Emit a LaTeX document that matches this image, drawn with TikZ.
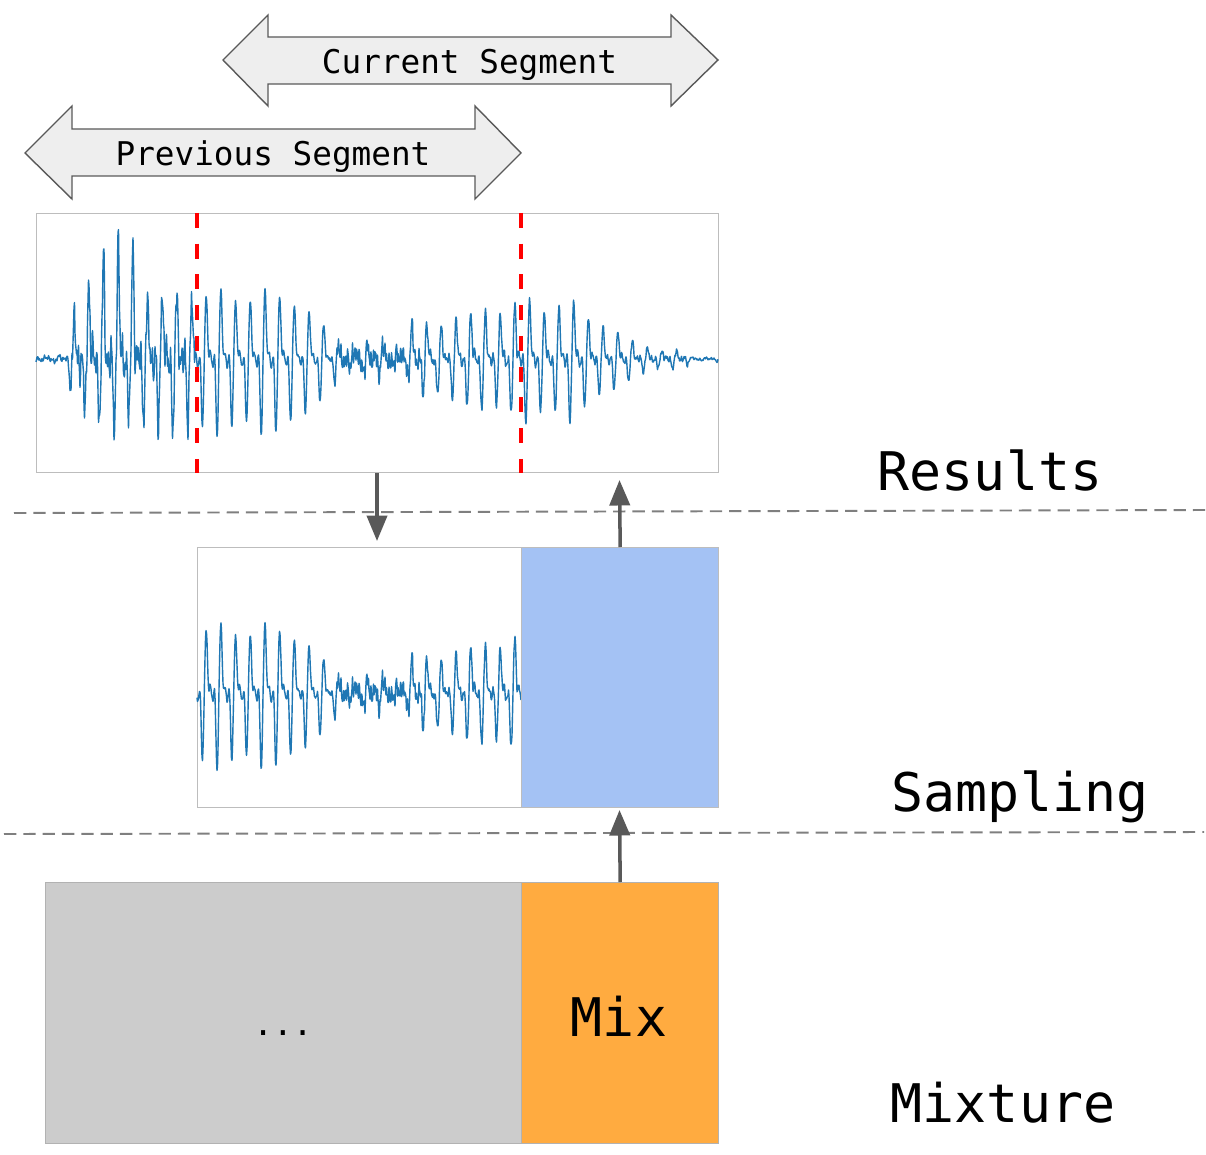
\documentclass[tikz,border=0pt]{standalone}
\usepackage{fontspec}
\newfontfamily\monofam{DejaVu Sans Mono}
\usetikzlibrary{arrows.meta,calc}
\definecolor{wblue}{HTML}{1F77B4}
\definecolor{sampblue}{HTML}{A4C2F4}
\definecolor{mixorange}{HTML}{FFAB40}
\definecolor{mixgray}{HTML}{CCCCCC}
\definecolor{arrowfill}{HTML}{EEEEEE}
\definecolor{arrowline}{HTML}{595959}
\definecolor{boxline}{HTML}{BDBDBD}
\definecolor{sepline}{HTML}{7F7F7F}
\begin{document}
\begin{tikzpicture}[x=0.02cm,y=-0.02cm,
  declare function={
    lin(\t,\a,\b,\u,\v)=\u+(\v-\u)*((\t-\a)/(\b-\a));
    sq(\q)=\q*\q;
    th(\t)=360*frac((\t-30)/14.7);
    pk(\p)=sq(sq(max(0,cos(\p))));
    env(\t)=(\t<65) ? lin(\t,36,65,2,4) : ((\t<80) ? lin(\t,65,80,4,62) : ((\t<150) ? 62 : ((\t<290) ? 68 : ((\t<335) ? lin(\t,290,335,68,24) : ((\t<410) ? lin(\t,335,410,12,14) : ((\t<520) ? lin(\t,410,520,32,58) : ((\t<570) ? 57 : ((\t<640) ? lin(\t,570,640,57,14) : ((\t<690) ? lin(\t,640,690,14,5) : 2)))))))));
    nenv(\t)=(\t<70) ? 2.5 : ((\t<195) ? 17 : ((\t<335) ? 2.5 : ((\t<425) ? 12 : ((\t<520) ? 5 : ((\t<690) ? 3 : 1.2)))));
    wf(\t)=pk(th(\t))-1.0*pk(th(\t)+100)+0.12*cos(3*th(\t)+90);
    nz(\t)=0.5*sin(360*frac(\t/2.3))+0.35*sin(360*frac(\t/3.7)+40)+0.3*sin(360*frac(\t/1.3))+0.4*sin(360*frac(\t/9.1));
    spk(\t)=((\t>78)*(\t<140))*75*(0.7+0.3*sin(360*frac(\t/13)))*sq(sq(sq(max(0,cos(th(\t))))));
    ytot(\t)=env(\t)*(0.92+0.1*sin(360*frac(\t/51)))*wf(\t)+spk(\t)+nenv(\t)*nz(\t);
  },
  segarrow/.style={draw=arrowline,fill=arrowfill,line width=0.8pt,line join=miter},
  smltxt/.style={font=\monofam\fontsize{18.6pt}{22pt}\selectfont,inner sep=0pt},
  bigtxt/.style={font=\monofam\fontsize{30.3pt}{36pt}\selectfont,inner sep=0pt},
  panel/.style={draw=boxline,line width=0.8pt,inner sep=0pt,anchor=north west},
  wave/.style={draw=wblue,line width=0.8pt,line join=round},
  redcut/.style={draw=red,line width=2.3pt,dash pattern=on 8.5pt off 9pt},
  sep/.style={draw=sepline,line width=1.1pt,dash pattern=on 7pt off 4pt},
  conn/.style={draw=arrowline,line width=2pt,-{Triangle[length=14.5pt,width=11.5pt]}}
]
\useasboundingbox (0,0) rectangle (1206,1155);

% segment arrows
\draw[segarrow] (223,60) -- (268,15) -- (268,37) -- (671,37) -- (671,15) -- (718,60)
  -- (671,106) -- (671,84) -- (268,84) -- (268,106) -- cycle;
\node[smltxt,anchor=base] (cur) at (469.5,74) {Current Segment};
\draw[segarrow] (25,153) -- (72,106) -- (72,129) -- (475,129) -- (475,106) -- (521,153)
  -- (475,199) -- (475,176) -- (72,176) -- (72,199) -- cycle;
\node[smltxt,anchor=base] (prev) at (273,166) {Previous Segment};

% separators
\coordinate (s1a) at (14,513);
\coordinate (s1b) at (1206,510);
\coordinate (s2a) at (4,834);
\coordinate (s2b) at (1204,832);
\draw[sep] (s1a) -- (s1b);
\draw[sep] (s2a) -- (s2b);

% results panel
\node[panel,fill=white,minimum width=13.64cm,minimum height=5.18cm] (res) at (36,213) {};
\draw[wave] plot[domain=36:718,samples=1365,variable=\t] ({\t},{359-ytot(\t)});
\coordinate (c1) at (197,213);
\coordinate (c2) at (521,213);
\draw[redcut] (c1) -- (c1 |- res.south);
\draw[redcut] (c2) -- (c2 |- res.south);

% sampling panel
\node[panel,fill=white,minimum width=10.42cm,minimum height=5.2cm] (samp) at (197,547) {};
\draw[wave] plot[domain=197:521,samples=649,variable=\t] ({\t},{693-ytot(\t)});
\node[panel,fill=sampblue,minimum width=3.94cm,minimum height=5.2cm] (blue) at (521,547) {};

% mixture panel
\node[panel,fill=mixgray,draw=black!30,minimum width=9.52cm,minimum height=5.22cm] (mixg) at (45,882) {};
\node[panel,fill=mixorange,draw=black!30,minimum width=3.94cm,minimum height=5.22cm] (mixo) at (521,882) {};
\node[smltxt,anchor=base] (dots) at (283,1035) {...};
\node[bigtxt,anchor=base] (mix) at (619,1036) {Mix};

% connectors
\coordinate (dtip) at (377,541);
\draw[conn] (res.south -| dtip) -- (dtip);
\coordinate (utip) at (619.5,480);
\draw[conn] (blue.north) -- (utip);
\coordinate (mtip) at (619.5,810);
\draw[conn] (mixo.north) -- (mtip);

% stage labels
\node[bigtxt,anchor=base] (lres) at (990,490) {Results};
\node[bigtxt,anchor=base] (lsamp) at (1020,811) {Sampling};
\node[bigtxt,anchor=base] (lmix) at (1003,1122) {Mixture};
\end{tikzpicture}
\end{document}
